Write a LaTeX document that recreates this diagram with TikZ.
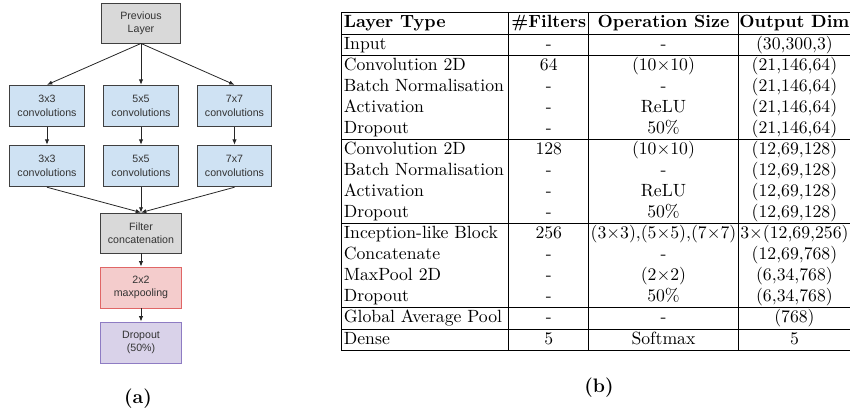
\documentclass[tikz,border=0pt]{standalone}
\usepackage{fontspec}
\usepackage{array}
\newfontfamily\diagfont{Liberation Sans}
\usetikzlibrary{arrows.meta,positioning}
\definecolor{boxgray}{HTML}{D9D9D9}
\definecolor{boxblue}{HTML}{CFE2F3}
\definecolor{boxred}{HTML}{F4CCCC}
\definecolor{edgered}{HTML}{E06666}
\definecolor{boxpurple}{HTML}{D9D2E9}
\definecolor{edgepurple}{HTML}{8E7CC3}
\setlength{\tabcolsep}{1pt}
\renewcommand{\arraystretch}{0.98}

\begin{document}
\begin{tikzpicture}[x=0.565pt,y=-0.565pt,layer/.style={draw=black!75, line width=0.5pt, align=center, minimum width=42pt, minimum height=23.5pt, inner sep=1pt, font=\diagfont\fontsize{6}{7.6}\selectfont, text=black!80},conv/.style={layer, fill=boxblue},flow/.style={-{Latex[length=3pt,width=2.4pt]}, black!85, line width=0.45pt},caption/.style={font=\bfseries\fontsize{11}{13}\selectfont}]
\useasboundingbox (0,0) rectangle (850,417);
% inception-like block
\node[layer, fill=boxgray, minimum width=44.6pt, minimum height=22.6pt](prev) at (141,23) {Previous\\Layer};
\node[conv](top3) at (47,106) {3x3\\convolutions};
\node[conv](top5) at (141,106) {5x5\\convolutions};
\node[conv](top7) at (234.5,106) {7x7\\convolutions};
\node[conv](bot3) at (47,166) {3x3\\convolutions};
\node[conv](bot5) at (141,166) {5x5\\convolutions};
\node[conv](bot7) at (234.5,166) {7x7\\convolutions};
\node[layer, fill=boxgray, minimum width=45.8pt, minimum height=22.6pt](concat) at (141,233) {Filter\\concatenation};
\node[layer, fill=boxred, draw=edgered, minimum width=45.8pt, minimum height=23.2pt](pool) at (141,287.5) {2x2\\maxpooling};
\node[layer, fill=boxpurple, draw=edgepurple, minimum width=45.8pt, minimum height=23.2pt](drop) at (141,342.5) {Dropout\\(50\%)};
\foreach \n in {3,5,7} {
\draw[flow] (prev.south) -- (top\n.north);
\draw[flow] (top\n) -- (bot\n);
\draw[flow] (bot\n.south) -- (concat.north);
}
\draw[flow] (concat) -- (pool);
\draw[flow] (pool) -- (drop);
\node[caption](capa) at (138,399) {(a)};
% layer table
\node[anchor=north west, inner sep=0pt](tab) at (341,12) {\begin{tabular}{|wl{92pt}|wc{42.8pt}|wc{82pt}|wc{61.2pt}|}
\hline
\textbf{Layer Type} & \textbf{\#Filters} & \textbf{Operation Size} & \textbf{Output Dim}\\
\hline
Input & - & - & (30,300,3)\\
\hline
Convolution 2D & 64 & (10$\times$10) & (21,146,64)\\
Batch Normalisation & - & - & (21,146,64)\\
Activation & - & ReLU & (21,146,64)\\
Dropout & - & 50\% & (21,146,64)\\
\hline
Convolution 2D & 128 & (10$\times$10) & (12,69,128)\\
Batch Normalisation & - & - & (12,69,128)\\
Activation & - & ReLU & (12,69,128)\\
Dropout & - & 50\% & (12,69,128)\\
\hline
Inception-like Block & 256 & (3$\times$3),(5$\times$5),(7$\times$7) & 3$\times$(12,69,256)\\
Concatenate & - & - & (12,69,768)\\
MaxPool 2D & - & (2$\times$2) & (6,34,768)\\
Dropout & - & 50\% & (6,34,768)\\
\hline
Global Average Pool & - & - & (768)\\
\hline
Dense & 5 & Softmax & 5\\
\hline
\end{tabular}};
\node[caption](capb) at (599,388) {(b)};
\end{tikzpicture}
\end{document}
